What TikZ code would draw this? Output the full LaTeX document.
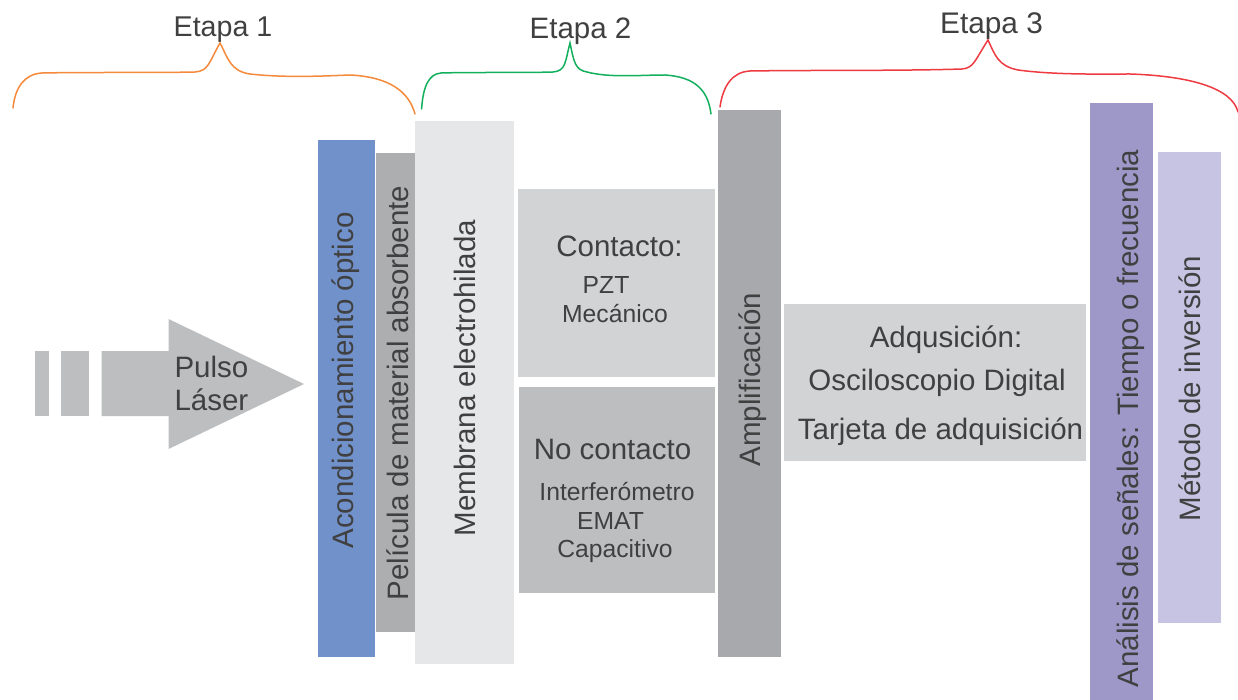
\documentclass[tikz,border=0pt]{standalone}
\usepackage{fontspec}
\setmainfont{Liberation Sans}
\definecolor{txt}{HTML}{404041}
\definecolor{cAcond}{HTML}{7191CB}
\definecolor{cPel}{HTML}{ADAEB0}
\definecolor{cMem}{HTML}{E6E7E8}
\definecolor{cCon}{HTML}{D1D3D4}
\definecolor{cNo}{HTML}{BCBEC0}
\definecolor{cAmp}{HTML}{A7A9AC}
\definecolor{cAna}{HTML}{9E98C9}
\definecolor{cMet}{HTML}{C7C3E3}
\definecolor{cOr}{HTML}{F58A3C}
\definecolor{cGr}{HTML}{12B05C}
\definecolor{cRe}{HTML}{EE3B41}
\newcommand{\fs}[1]{\fontsize{#1}{#1}\selectfont}
\tikzset{
  block/.style={draw=none,inner sep=0pt,outer sep=0pt,rectangle},
  lbl/.style={inner sep=0pt,outer sep=0pt,text=txt,align=center},
  mid/.style={lbl,font=\fs{29.5}},
  small/.style={lbl,font=\fs{24.7}},
  brace/.style={line width=1.5pt,line cap=round}
}
\begin{document}
\begin{tikzpicture}[x=1pt,y=-1pt]
\useasboundingbox (0,0) rectangle (1238,700);
\fill[white] (0,0) rectangle (1238,700);
% blocks
\node[block,fill=cAcond,minimum width=57pt,minimum height=517pt] (acond) at (346.5,398.5) {};
\node[block,fill=cPel,minimum width=39pt,minimum height=479pt] (pel) at (395.5,392.5) {};
\node[block,fill=cMem,minimum width=99pt,minimum height=543pt] (mem) at (464.5,392.5) {};
\node[block,fill=cCon,minimum width=197pt,minimum height=188pt] (con) at (616.5,283) {};
\node[block,fill=cNo,minimum width=196pt,minimum height=206pt] (nocon) at (617,490) {};
\node[block,fill=cAmp,minimum width=63pt,minimum height=547pt] (amp) at (749.5,383.5) {};
\node[block,fill=cCon,minimum width=302pt,minimum height=157pt] (adq) at (935,382.5) {};
\node[block,fill=cAna,minimum width=63pt,minimum height=597pt] (ana) at (1121.5,401.5) {};
\node[block,fill=cMet,minimum width=63pt,minimum height=471pt] (met) at (1189.5,387.5) {};
% pulse arrow
\fill[cNo] (34.5,351) rectangle (48.5,416);
\fill[cNo] (61,351) rectangle (89,416);
\fill[cNo] (101.5,351) -- (168.5,351) -- (168.5,319) -- (304,384) -- (168.5,449) -- (168.5,416) -- (101.5,416) -- cycle;
% rotated labels
\node[mid,rotate=90] (tAcond) at (346,380.5) {Acondicionamiento óptico};
\node[mid,rotate=90] (tPel) at (398,393) {Película de material absorbente};
\node[mid,rotate=90] (tMem) at (465,378) {Membrana electrohilada};
\node[mid,rotate=90] (tAmp) at (752.5,379.5) {Amplificación};
\node[mid,rotate=90] (tAna) at (1130.5,418.5) {Análisis de señales: Tiempo o frecuencia};
\node[mid,rotate=90] (tMet) at (1190,388.5) {Método de inversión};
% horizontal labels
\node[lbl,font=\fs{28.6}] (e1) at (223,30) {Etapa 1};
\node[lbl,font=\fs{29.5}] (e2) at (580.5,31) {Etapa 2};
\node[lbl,font=\fs{29.8}] (e3) at (991.5,26) {Etapa 3};
\node[lbl,font=\fs{29.5},align=left,anchor=west] (pulso) at (174.5,367) {Pulso};
\node[lbl,font=\fs{29.5},align=left,anchor=west] (laser) at (174.5,400) {Láser};
\node[mid] (tCon) at (619.5,246) {Contacto:};
\node[small] (tPzt) at (606,285) {PZT};
\node[small] (tMec) at (615,314) {Mecánico};
\node[mid] (tNo) at (612.5,449) {No contacto};
\node[small] (tInt) at (617,492) {Interferómetro};
\node[small] (tEmat) at (610.5,521) {EMAT};
\node[small] (tCap) at (615,551) {Capacitivo};
\node[mid] (tAdq) at (946,340) {Adqusición:};
\node[mid] (tOsc) at (937,383) {Osciloscopio Digital};
\node[mid] (tTar) at (940.5,432) {Tarjeta de adquisición};
% braces
\draw[brace,cOr] (13,108) .. controls (15,88) and (24,74) .. (42,73)
  .. controls (90,72) and (150,73) .. (195,72)
  .. controls (209,71) and (209,62) .. (220,43)
  .. controls (228,58) and (230,71) .. (250,74)
  .. controls (285,78) and (325,76) .. (350,75)
  .. controls (390,77) and (409,92) .. (415,114);
\draw[brace,cGr] (421.6,109) .. controls (423,88) and (428,74) .. (441,73)
  .. controls (475,72) and (520,73) .. (553,72)
  .. controls (566,71) and (565,62) .. (570,43)
  .. controls (574,62) and (575,70) .. (587,72)
  .. controls (610,78) and (640,75) .. (665,75)
  .. controls (695,77) and (708,90) .. (711,114);
\draw[brace,cRe] (720,107) .. controls (723,86) and (732,72) .. (750,71)
  .. controls (810,70) and (900,71) .. (962,69)
  .. controls (974,68) and (975,60) .. (988,40)
  .. controls (995,55) and (998,66) .. (1018,70)
  .. controls (1055,75) and (1100,74) .. (1130,74)
  .. controls (1190,76) and (1232,88) .. (1238,112);
\end{tikzpicture}
\end{document}
